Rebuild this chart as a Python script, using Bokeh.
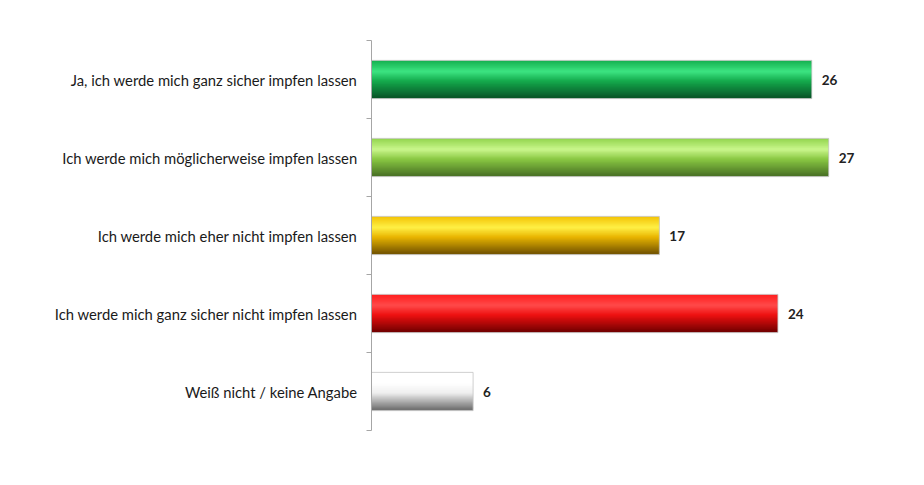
from bokeh.plotting import figure
from bokeh.models import Range1d, LinearAxis, FixedTicker, ColumnDataSource
from bokeh.core.properties import value
from bokeh.embed import file_html
from bokeh.resources import INLINE

categories = [
    "Ja, ich werde mich ganz sicher impfen lassen",
    "Ich werde mich möglicherweise impfen lassen",
    "Ich werde mich eher nicht impfen lassen",
    "Ich werde mich ganz sicher nicht impfen lassen",
    "Weiß nicht / keine Angabe",
]
values = [26, 27, 17, 24, 6]

# gradient stops top -> bottom per bar (style only)
gradients = [
    [(0.0, "#13ad4c"), (0.3, "#3de482"), (0.55, "#14aa4c"), (1.0, "#075226")],
    [(0.0, "#8fd34a"), (0.3, "#c9f68c"), (0.55, "#8ac843"), (1.0, "#476f24")],
    [(0.0, "#f2c000"), (0.3, "#fff046"), (0.55, "#e9b500"), (1.0, "#6e5000")],
    [(0.0, "#ff1c1c"), (0.3, "#ff4a4a"), (0.55, "#ee1010"), (1.0, "#6e0000")],
    [(0.0, "#ffffff"), (0.3, "#ffffff"), (0.55, "#eeeeee"), (1.0, "#6a6a6a")],
]

def hex2rgb(h):
    return tuple(int(h[i:i + 2], 16) for i in (1, 3, 5))

def interp(stops, t):
    for (p0, c0), (p1, c1) in zip(stops[:-1], stops[1:]):
        if p0 <= t <= p1:
            f = (t - p0) / (p1 - p0) if p1 > p0 else 0
            a, b = hex2rgb(c0), hex2rgb(c1)
            return "#%02x%02x%02x" % tuple(round(a[k] + (b[k] - a[k]) * f) for k in range(3))
    return stops[-1][1]

n = len(categories)
ypos = [i + 0.5 for i in range(n)]
bar_h = 0.49

p = figure(width=908, height=465, output_backend="svg", toolbar_location=None,
           x_range=Range1d(0, 30), y_range=Range1d(n, 0),
           x_axis_location=None, y_axis_location=None,
           min_border_left=371, min_border_right=29, min_border_top=40, min_border_bottom=35)
p.outline_line_color = None
p.grid.visible = False
p.background_fill_color = "white"

N = 40
for j in range(N):
    t = (j + 0.5) / N
    off = -bar_h / 2 + t * bar_h
    cols = [interp(g, t) for g in gradients]
    src = ColumnDataSource(dict(y=[y + off for y in ypos], right=values, color=cols))
    hh = bar_h / N * (1.0 if j in (0, N - 1) else 1.8)
    p.hbar(y="y", right="right", left=0, height=hh, source=src,
           fill_color="color", line_color=None)

# faint grey outline
p.hbar(y=ypos, right=values, left=0, height=bar_h, fill_color=None,
       line_color="#c4c4c4", line_width=1, line_alpha=0.8)

src_lbl = ColumnDataSource(dict(x=values, y=ypos, t=[str(v) for v in values]))
p.text(x="x", y="y", text="t", source=src_lbl, x_offset=10, text_baseline="middle",
       text_align="left", text_font=value("Lato"), text_font_style="bold",
       text_font_size="13.5px", text_color="#222222")

ax = LinearAxis(ticker=FixedTicker(ticks=ypos, minor_ticks=list(range(n + 1))))
ax.major_label_overrides = {y: c for y, c in zip(ypos, categories)}
ax.major_tick_out = 0
ax.major_tick_in = 0
ax.minor_tick_out = 5
ax.minor_tick_in = 0
ax.axis_line_color = "#a6a6a6"
ax.minor_tick_line_color = "#a6a6a6"
ax.major_label_standoff = 9
ax.major_label_text_font = "Lato"
ax.major_label_text_font_size = "14.8px"
ax.major_label_text_color = "#1a1a1a"
p.add_layout(ax, "left")

open("out.html", "w").write(file_html(p, INLINE))
